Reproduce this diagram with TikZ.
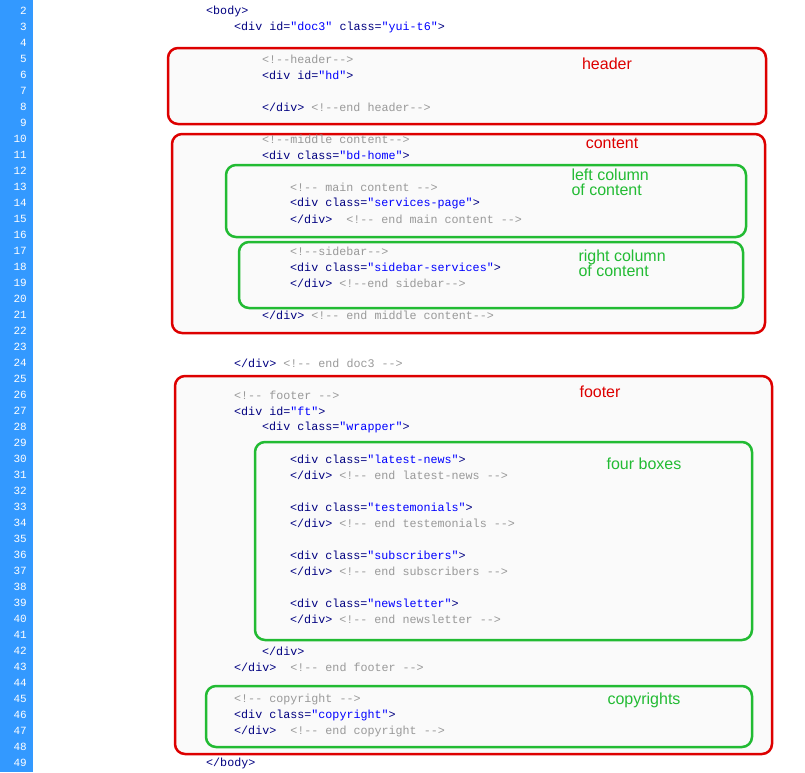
\documentclass[tikz,border=0pt]{standalone}
\usepackage{fontspec}
\setmainfont{Liberation Sans}
\setmonofont{Liberation Mono}
\usetikzlibrary{positioning}
\definecolor{gutter_blue}  {HTML} {3399FF}
\definecolor{tag_navy}     {HTML} {000080}
\definecolor{str_blue}     {HTML} {0000FF}
\definecolor{cmt_gray}     {HTML} {999999}
\definecolor{box_red}      {HTML} {DD0000}
\definecolor{box_green}    {HTML} {22BB33}
\definecolor{box_fill}     {HTML} {FAFAFA}
\newcommand{\tg}[1]{\textcolor{tag_navy}{#1}}
\newcommand{\st}[1]{\textcolor{str_blue}{#1}}
\newcommand{\cm}[1]{\textcolor{cmt_gray}{#1}}
\tikzset{
  code/.style={anchor=west,inner sep=0pt,font=\ttfamily\fontsize{11.7}{12}\selectfont},
  num/.style={anchor=east,inner sep=0pt,text=white,font=\ttfamily\fontsize{11}{12}\selectfont},
  redbox/.style={draw=box_red,fill=box_fill,line width=2.5pt,rounded corners=10pt},
  greenbox/.style={draw=box_green,fill=box_fill,line width=2.5pt,rounded corners=10pt},
  redlabel/.style={text=box_red,font=\fontsize{16}{16}\selectfont},
  greenlabel/.style={text=box_green,font=\fontsize{16}{15}\selectfont,align=left}
}

\begin{document}
\begin{tikzpicture}[x=1pt,y=-1pt]
\useasboundingbox (0,0) rectangle (805,772);
\fill[gutter_blue] (0,0) rectangle (33,772);
\foreach \n in {2,...,49} \node[num] (n\n) at (27,{11+(\n-2)*16}) {\n};
% boxes
\draw[redbox] (168,48) rectangle (766,124);
\draw[redbox] (172,134) rectangle (765,333);
\draw[greenbox] (226,165) rectangle (746,237);
\draw[greenbox] (239,242) rectangle (743,308);
\draw[redbox] (175,376) rectangle (772,754);
\draw[greenbox] (255,442) rectangle (752,640);
\draw[greenbox] (206,686) rectangle (752,747);
% labels
\node[redlabel] (hdlabel) at (607,64) {header};
\node[redlabel] (bdlabel) at (612,143) {content};
\node[greenlabel,anchor=west] (leftlabel) at (568,182) {left column\\of content};
\node[greenlabel,anchor=west] (rightlabel) at (575,263) {right column\\of content};
\node[redlabel] (ftlabel) at (600,392) {footer};
\node[greenlabel] (boxlabel) at (644,464) {four boxes};
\node[greenlabel] (copylabel) at (644,700) {copyrights};
% code
\node[code] (l2) at (206,11) {\tg{<body>}};
\node[code] (l3) at (234,27) {\tg{<div id=}\st{"doc3"}\ \tg{class=}\st{"yui-t6"}\tg{>}};
\node[code] (l5) at (262,59) {\cm{<!--header-->}};
\node[code] (l6) at (262,75) {\tg{<div id=}\st{"hd"}\tg{>}};
\node[code] (l8) at (262,107) {\tg{</div>} \cm{<!--end header-->}};
\node[code] (l10) at (262,139) {\cm{<!--middle content-->}};
\node[code] (l11) at (262,155) {\tg{<div class=}\st{"bd-home"}\tg{>}};
\node[code] (l13) at (290,187) {\cm{<!-- main content -->}};
\node[code] (l14) at (290,203) {\tg{<div class=}\st{"services-page"}\tg{>}};
\node[code] (l15) at (290,219) {\tg{</div>} \ \cm{<!-- end main content -->}};
\node[code] (l17) at (290,251) {\cm{<!--sidebar-->}};
\node[code] (l18) at (290,267) {\tg{<div class=}\st{"sidebar-services"}\tg{>}};
\node[code] (l19) at (290,283) {\tg{</div>} \cm{<!--end sidebar-->}};
\node[code] (l21) at (262,315) {\tg{</div>} \cm{<!-- end middle content-->}};
\node[code] (l24) at (234,363) {\tg{</div>} \cm{<!-- end doc3 -->}};
\node[code] (l26) at (234,395) {\cm{<!-- footer -->}};
\node[code] (l27) at (234,411) {\tg{<div id=}\st{"ft"}\tg{>}};
\node[code] (l28) at (262,427) {\tg{<div class=}\st{"wrapper"}\tg{>}};
\node[code] (l30) at (290,459) {\tg{<div class=}\st{"latest-news"}\tg{>}};
\node[code] (l31) at (290,475) {\tg{</div>} \cm{<!-- end latest-news -->}};
\node[code] (l33) at (290,507) {\tg{<div class=}\st{"testemonials"}\tg{>}};
\node[code] (l34) at (290,523) {\tg{</div>} \cm{<!-- end testemonials -->}};
\node[code] (l36) at (290,555) {\tg{<div class=}\st{"subscribers"}\tg{>}};
\node[code] (l37) at (290,571) {\tg{</div>} \cm{<!-- end subscribers -->}};
\node[code] (l39) at (290,603) {\tg{<div class=}\st{"newsletter"}\tg{>}};
\node[code] (l40) at (290,619) {\tg{</div>} \cm{<!-- end newsletter -->}};
\node[code] (l42) at (262,651) {\tg{</div>}};
\node[code] (l43) at (234,667) {\tg{</div>} \ \cm{<!-- end footer -->}};
\node[code] (l45) at (234,699) {\cm{<!-- copyright -->}};
\node[code] (l46) at (234,715) {\tg{<div class=}\st{"copyright"}\tg{>}};
\node[code] (l47) at (234,731) {\tg{</div>} \ \cm{<!-- end copyright -->}};
\node[code] (l49) at (206,763) {\tg{</body>}};
\end{tikzpicture}
\end{document}
